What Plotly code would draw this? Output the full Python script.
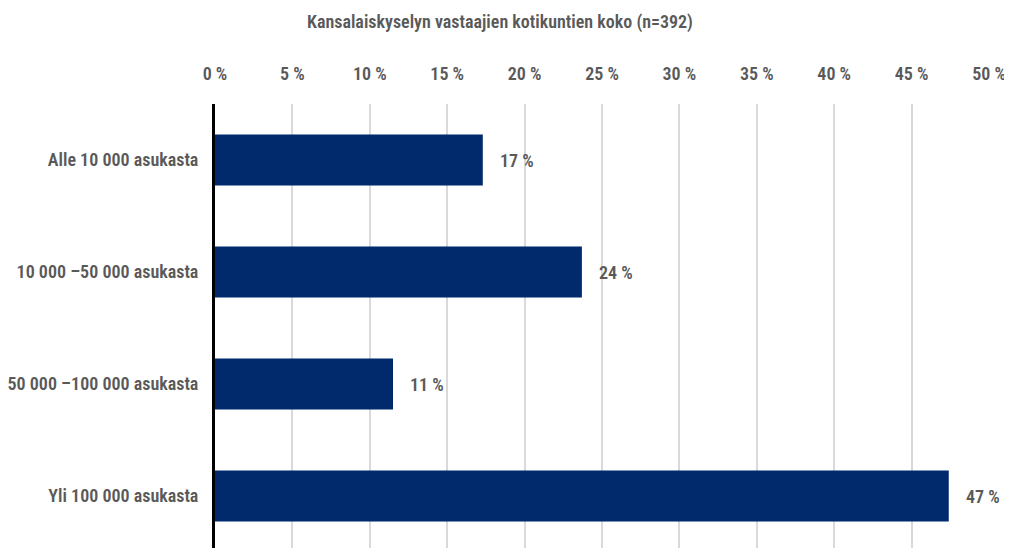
import plotly.graph_objects as go

categories = ["Alle 10 000 asukasta", "10 000 –50 000 asukasta", "50 000 –100 000 asukasta", "Yli 100 000 asukasta"]
values = [17.3, 23.7, 11.5, 47.4]
labels = ["17 %", "24 %", "11 %", "47 %"]
tick_vals = [0, 5, 10, 15, 20, 25, 30, 35, 40, 45, 50]
tick_text = ["0 %", "5 %", "10 %", "15 %", "20 %", "25 %", "30 %", "35 %", "40 %", "45 %", "50 %"]
title = "Kansalaiskyselyn vastaajien kotikuntien koko (n=392)"

FONT = "Liberation Sans Narrow, Roboto Condensed, DejaVu Sans Condensed, sans-serif"
GREY = "#595959"
W = 600

# page body has an 8px default margin; the figure is sized to fit inside it
fig = go.Figure(go.Bar(
    x=values, y=categories, orientation="h",
    marker=dict(color="#002A6C", line=dict(width=0)),
    width=0.455,
))

for v, c, t in zip(values, categories, labels):
    fig.add_annotation(x=v, y=c, text=t, showarrow=False, xanchor="left",
                       xshift=15, font=dict(family=FONT, size=18, color=GREY, weight=W))

fig.update_layout(
    width=1004, height=540,
    margin=dict(l=207, r=23, t=96, b=0, autoexpand=False),
    paper_bgcolor="white", plot_bgcolor="white",
    showlegend=False,
    title=dict(text=title, x=0.49, xanchor="center", y=1 - 14 / 540, yanchor="middle",
               font=dict(family=FONT, size=18, color=GREY, weight=W)),
    xaxis=dict(side="top", range=[0, 50], tickvals=tick_vals, ticktext=tick_text,
               showgrid=True, gridcolor="#D9D9D9", gridwidth=2, zeroline=False,
               showline=False, ticks="", ticklabelstandoff=19, automargin=False,
               tickfont=dict(family=FONT, size=18, color=GREY, weight=W)),
    yaxis=dict(range=[3.464, -0.5], showgrid=False, zeroline=False,
               showline=True, linecolor="black", linewidth=3, ticks="",
               ticklabelstandoff=10, automargin=False,
               tickfont=dict(family=FONT, size=18, color=GREY, weight=W)),
)

fig.write_html("out.html")
